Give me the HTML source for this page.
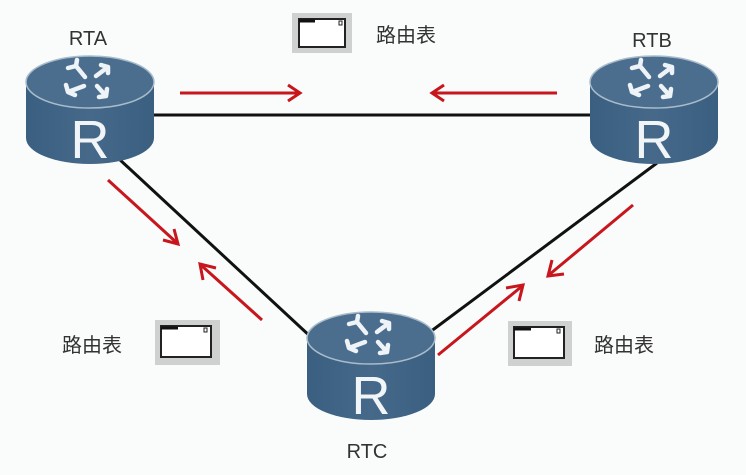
<!DOCTYPE html>
<html><head><meta charset="utf-8"><style>
html,body{margin:0;padding:0;background:#fafcfb;}
svg{display:block}
text{font-family:"Liberation Sans","Noto Sans CJK SC",sans-serif;}
</style></head><body>
<svg width="746" height="475" viewBox="0 0 746 475" xmlns="http://www.w3.org/2000/svg">
<defs>
<linearGradient id="body" x1="0" x2="1">
<stop offset="0" stop-color="#3a5f80"/><stop offset="0.5" stop-color="#46698a"/><stop offset="1" stop-color="#3a5f80"/>
</linearGradient>
<g id="router">
<path d="M-64 0 L-64 56 A64 26 0 0 0 64 56 L64 0 Z" fill="url(#body)"/>
<ellipse cx="0" cy="0" rx="64" ry="26" fill="#4b6e8f" stroke="#a9bccc" stroke-width="1.5"/>
<g fill="none" stroke="#eef3f7" stroke-width="4.5" stroke-linecap="round" stroke-linejoin="round">
<path d="M-5 -5 L-14 -16 M-22 -14 L-14 -16 L-13 -22"/>
<path d="M6 -6 L18 -15 M11 -17 L18 -15 L18 -9"/>
<path d="M-6 4 L-22 10 M-24 3 L-22 10 L-15 13"/>
<path d="M7 4 L16 14 M17 7 L16 14 L9 15"/>
</g>
<text x="0" y="76" font-size="54" fill="#f2f5f8" text-anchor="middle">R</text>
</g>
</defs>
<g stroke="#111" stroke-width="3">
<line x1="150" y1="115" x2="592" y2="115"/>
<line x1="118" y1="158" x2="312" y2="338"/>
<line x1="657" y1="163" x2="430" y2="332"/>
</g>
<use href="#router" x="90" y="82"/>
<use href="#router" x="654" y="82"/>
<use href="#router" x="371" y="338"/>
<g stroke="#c8161d" stroke-width="3" fill="none">
<line x1="180" y1="93" x2="298" y2="93"/><path d="M288 85 L300 93 L288 101"/>
<line x1="557" y1="93" x2="434" y2="93"/><path d="M444 85 L432 93 L444 101"/>
<line x1="108" y1="180" x2="176" y2="242"/><path d="M163 240 L178 244 L174 229"/>
<line x1="262" y1="320" x2="202" y2="266"/><path d="M203 280 L200 264 L216 268"/>
<line x1="633" y1="205" x2="550" y2="274"/><path d="M552 260 L548 276 L564 274"/>
<line x1="438" y1="355" x2="521" y2="287"/><path d="M506 288 L523 285 L519 301"/>
</g>
<g>
<rect x="292" y="13" width="60" height="40" fill="#cfd1d0"/>
<rect x="299" y="19" width="46" height="28" fill="#fff" stroke="#222" stroke-width="2"/>
<line x1="299" y1="21" x2="315" y2="21" stroke="#111" stroke-width="3"/>
<rect x="339" y="21" width="3" height="4" fill="none" stroke="#222"/>
<rect x="155" y="320" width="65" height="45" fill="#cfd1d0"/>
<rect x="161" y="326" width="50" height="31" fill="#fff" stroke="#222" stroke-width="2"/>
<line x1="161" y1="328" x2="178" y2="328" stroke="#111" stroke-width="3"/>
<rect x="204" y="328" width="3" height="4" fill="none" stroke="#222"/>
<rect x="508" y="321" width="64" height="45" fill="#cfd1d0"/>
<rect x="514" y="327" width="50" height="31" fill="#fff" stroke="#222" stroke-width="2"/>
<line x1="514" y1="329" x2="531" y2="329" stroke="#111" stroke-width="3"/>
<rect x="557" y="329" width="3" height="4" fill="none" stroke="#222"/>
</g>
<g font-size="20" fill="#333">
<text x="88" y="45" text-anchor="middle">RTA</text>
<text x="652" y="47" text-anchor="middle">RTB</text>
<text x="367" y="458" text-anchor="middle">RTC</text>
<text x="376" y="42">路由表</text>
<text x="62" y="352">路由表</text>
<text x="594" y="352">路由表</text>
</g>
</svg>
</body></html>
